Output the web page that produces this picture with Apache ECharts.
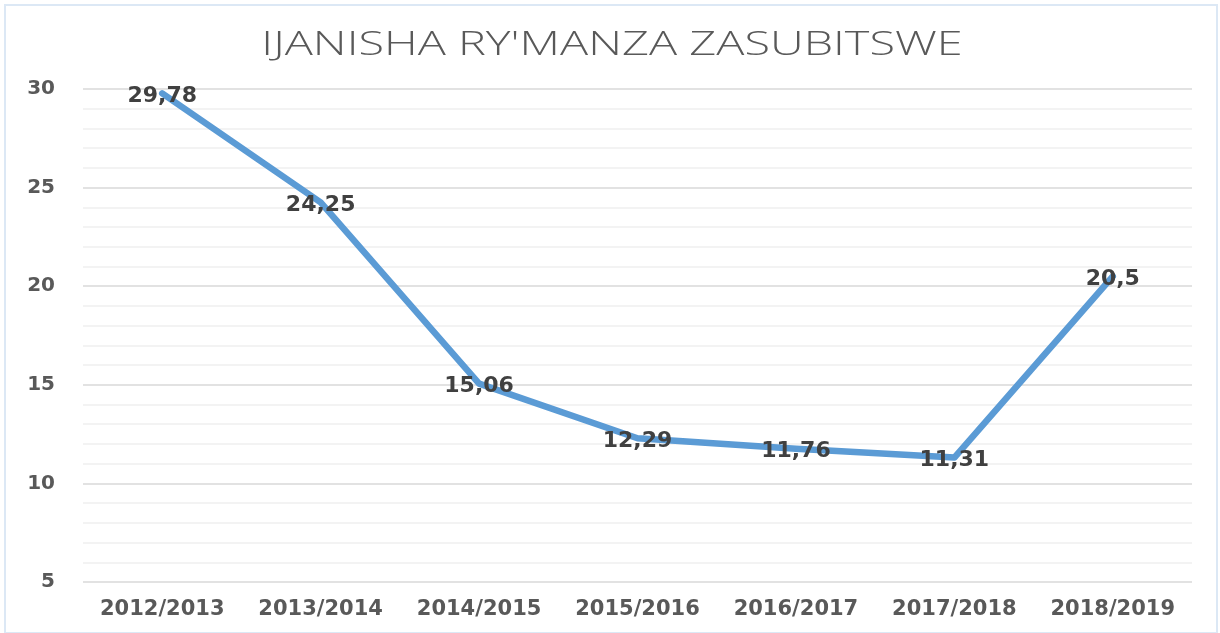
<!DOCTYPE html>
<html>
<head>
<meta charset="utf-8">
<script src="https://cdn.jsdelivr.net/npm/echarts@6/dist/echarts.min.js"></script>
<style>
  html, body { margin: 0; padding: 0; background: #fff; }
  #frame {
    position: absolute; left: 4px; top: 4px; width: 1214px; height: 630px;
    border: 2px solid #dce8f5; box-sizing: border-box;
  }
  #chart { position: absolute; left: 0; top: 0; width: 1220px; height: 633px; }
</style>
</head>
<body>
<div id="frame"></div>
<div id="chart"></div>
<script>
const title = "IJANISHA RY'MANZA ZASUBITSWE";
const years = ["2012/2013", "2013/2014", "2014/2015", "2015/2016", "2016/2017", "2017/2018", "2018/2019"];
const rates = [29.78, 24.25, 15.06, 12.29, 11.76, 11.31, 20.5];

const chart = echarts.init(document.getElementById("chart"), null, { renderer: "canvas" });

chart.setOption({
  animation: false,
  // the reference text is stretched sideways, so the title is a scaled graphic text
  graphic: [
    {
      type: "text",
      x: 612,
      y: 46,
      scaleX: 1.42,
      style: {
        text: title,
        align: "center",
        verticalAlign: "middle",
        fontFamily: "Open Sans",
        fontWeight: 300,
        fontSize: 33,
        fill: "#595959",
      },
    },
  ],
  grid: { left: 83, right: 28, top: 89, bottom: 51 },
  xAxis: {
    type: "category",
    data: years,
    boundaryGap: true,
    axisLine: { show: false },
    axisTick: { show: false },
    axisLabel: {
      interval: 0,
      margin: 17,
      fontFamily: "DejaVu Sans",
      fontWeight: "bold",
      fontSize: 21,
      color: "#595959",
    },
  },
  yAxis: {
    type: "value",
    min: 5,
    max: 30,
    interval: 5,
    axisLine: { show: false },
    axisTick: { show: false },
    axisLabel: {
      margin: 28,
      fontFamily: "DejaVu Sans",
      fontWeight: "bold",
      fontSize: 20,
      color: "#595959",
    },
    splitLine: { lineStyle: { color: "#d9d9d9", width: 1.5 } },
    minorTick: { show: false, splitNumber: 5 },
    minorSplitLine: { show: true, lineStyle: { color: "#efefef", width: 1.5 } },
  },
  series: [
    {
      type: "line",
      data: rates,
      showSymbol: true,
      symbol: "circle",
      symbolSize: 1,
      itemStyle: { color: "#5b9bd5" },
      lineStyle: { color: "#5b9bd5", width: 6.5, cap: "round", join: "round" },
      label: {
        show: true,
        position: "inside",
        offset: [0, 3],
        fontFamily: "DejaVu Sans",
        fontWeight: "bold",
        fontSize: 22,
        color: "#404040",
        formatter: (p) => String(p.value).replace(".", ","),
      },
    },
  ],
});
</script>
</body>
</html>
